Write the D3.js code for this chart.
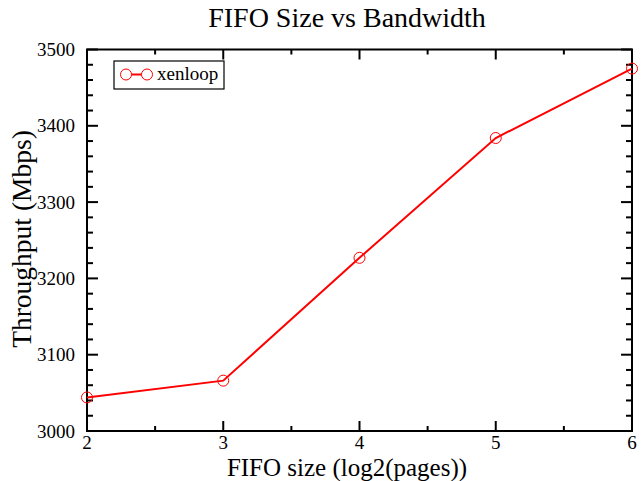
<!DOCTYPE html>
<html><head><meta charset="utf-8">
<script src="https://cdn.jsdelivr.net/npm/d3@7"></script>
<style>body{margin:0;background:#fff}svg{display:block}</style>
</head><body><svg id="c" width="643" height="481" font-family="Liberation Serif"></svg>
<script>
const xValues = [2, 3, 4, 5, 6];
const throughput = [3044, 3066, 3227, 3384, 3475];
const seriesName = "xenloop";
const xTicks = [2, 3, 4, 5, 6];
const yTicks = [3000, 3100, 3200, 3300, 3400, 3500];
const titleText = "FIFO Size vs Bandwidth";
const xLabel = "FIFO size (log2(pages))";
const yLabel = "Throughput (Mbps)";

const svg = d3.select("#c");
const L = 87, R = 632, T = 49.5, B = 431;
const x = d3.scaleLinear().domain([2, 6]).range([L, R]);
const y = d3.scaleLinear().domain([3000, 3500]).range([B, T]);
const red = "#ff0000";

const xMinor = d3.range(2, 6.01, 0.5).filter(v => !xTicks.includes(v));
const yMinor = d3.range(3000, 3500.1, 20).filter(v => !yTicks.includes(v));

const g = svg.append("g").attr("stroke", "#000").attr("stroke-width", 2);
xTicks.forEach(v => {
  g.append("line").attr("x1", x(v)).attr("x2", x(v)).attr("y1", B).attr("y2", B - 10);
  g.append("line").attr("x1", x(v)).attr("x2", x(v)).attr("y1", T).attr("y2", T + 10);
});
xMinor.forEach(v => {
  g.append("line").attr("x1", x(v)).attr("x2", x(v)).attr("y1", B).attr("y2", B - 5);
  g.append("line").attr("x1", x(v)).attr("x2", x(v)).attr("y1", T).attr("y2", T + 5);
});
yTicks.forEach(v => {
  g.append("line").attr("x1", L).attr("x2", L + 11).attr("y1", y(v)).attr("y2", y(v));
  g.append("line").attr("x1", R).attr("x2", R - 11).attr("y1", y(v)).attr("y2", y(v));
});
yMinor.forEach(v => {
  g.append("line").attr("x1", L).attr("x2", L + 6).attr("y1", y(v)).attr("y2", y(v));
  g.append("line").attr("x1", R).attr("x2", R - 6).attr("y1", y(v)).attr("y2", y(v));
});
svg.append("rect").attr("x", L).attr("y", T).attr("width", R - L).attr("height", B - T)
  .attr("fill", "none").attr("stroke", "#000").attr("stroke-width", 2);

// tick labels
svg.append("g").selectAll("text").data(xTicks).join("text")
  .attr("x", d => x(d)).attr("y", B + 17.5).attr("text-anchor", "middle")
  .attr("font-size", 19).text(d => d);
svg.append("g").selectAll("text").data(yTicks).join("text")
  .attr("x", L - 12).attr("y", d => y(d) + 6.5).attr("text-anchor", "end")
  .attr("font-size", 19).text(d => d);

// line & markers
const pts = xValues.map((v, i) => [v, throughput[i]]);
svg.append("path").datum(pts)
  .attr("d", d3.line().x(d => x(d[0])).y(d => y(d[1])))
  .attr("fill", "none").attr("stroke", red).attr("stroke-width", 2);
svg.append("g").selectAll("circle").data(pts).join("circle")
  .attr("cx", d => x(d[0])).attr("cy", d => y(d[1])).attr("r", 5.5)
  .attr("fill", "none").attr("stroke", red).attr("stroke-width", 1);

// legend
const lg = svg.append("g");
lg.append("rect").attr("x", 114).attr("y", 61).attr("width", 110).attr("height", 28)
  .attr("fill", "#fff").attr("stroke", "#000").attr("stroke-width", 1.2);
lg.append("line").attr("x1", 126).attr("x2", 147).attr("y1", 74.5).attr("y2", 74.5)
  .attr("stroke", red).attr("stroke-width", 2);
[126, 147].forEach(cx => lg.append("circle").attr("cx", cx).attr("cy", 74.5).attr("r", 5.5)
  .attr("fill", "#fff").attr("stroke", red).attr("stroke-width", 1));
lg.append("text").attr("x", 157).attr("y", 80).attr("font-size", 19).text(seriesName);

// titles
svg.append("text").attr("x", 347).attr("y", 27).attr("text-anchor", "middle")
  .attr("font-size", 28).text(titleText);
svg.append("text").attr("x", 347).attr("y", 475.5).attr("text-anchor", "middle")
  .attr("font-size", 25).text(xLabel);
svg.append("text").attr("transform", `translate(30.5,239) rotate(-90)`)
  .attr("text-anchor", "middle").attr("font-size", 27.5).text(yLabel);
</script></body></html>
